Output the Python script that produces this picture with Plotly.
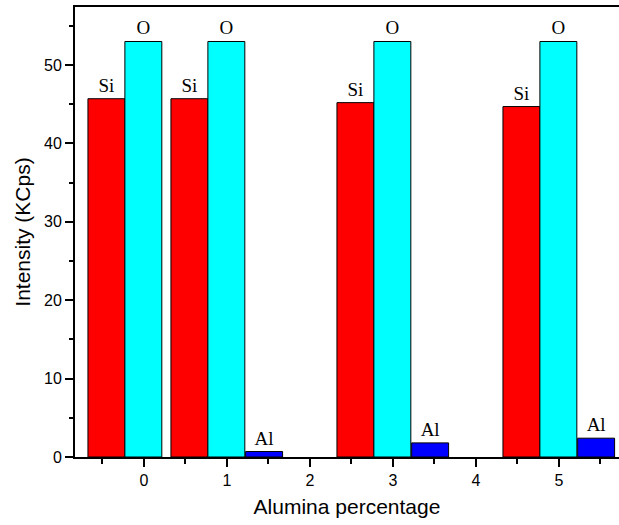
import plotly.graph_objects as go

x_vals = [0, 1, 2, 3, 4, 5]
si_vals = [45.7, 45.7, None, 45.2, None, 44.7]
o_vals = [53.0, 53.0, None, 53.0, None, 53.0]
al_vals = [None, 0.7, None, 1.8, None, 2.4]

series = [
    ("Si", si_vals, "#FF0000", -0.675),
    ("O", o_vals, "#00FFFF", -0.23),
    ("Al", al_vals, "#0000FF", 0.225),
]

fig = go.Figure()
for name, vals, color, off in series:
    fig.add_trace(go.Bar(
        x=x_vals, y=vals, name=name,
        width=0.445, offset=off,
        marker=dict(color=color, line=dict(color="black", width=1)),
        text=[name if v is not None else "" for v in vals],
        textposition="outside",
        textfont=dict(family="Liberation Serif", size=19, color="black"),
        cliponaxis=False,
    ))

fig.update_layout(
    width=619, height=525,
    margin=dict(l=75, r=0, t=7, b=68),
    paper_bgcolor="white", plot_bgcolor="white",
    showlegend=False,
    barmode="overlay",
    font=dict(family="Liberation Sans", color="black"),
)
fig.update_xaxes(
    range=[-0.831, 5.723],
    tickmode="array", tickvals=x_vals, ticktext=[str(v) for v in x_vals],
    ticks="outside", ticklen=8, tickwidth=1.5, tickcolor="black",
    minor=dict(tickmode="array", tickvals=[-0.5, 0.5, 1.5, 2.5, 3.5, 4.5, 5.5],
               ticks="outside", ticklen=5, tickwidth=1.5, tickcolor="black"),
    showline=True, linecolor="black", linewidth=2, mirror=True,
    showgrid=False, zeroline=False,
    tickfont=dict(size=16),
    title=dict(text="Alumina percentage", font=dict(size=21), standoff=11),
)
fig.update_yaxes(
    range=[0, 57.4],
    tickmode="array", tickvals=[0, 10, 20, 30, 40, 50],
    ticks="outside", ticklen=8, tickwidth=1.5, tickcolor="black",
    minor=dict(tickmode="array", tickvals=[5, 15, 25, 35, 45, 55],
               ticks="outside", ticklen=4, tickwidth=1.5, tickcolor="black"),
    showline=True, linecolor="black", linewidth=2,
    showgrid=False, zeroline=False,
    tickfont=dict(size=16),
    title=dict(text="Intensity (KCps)", font=dict(size=21), standoff=8),
)

fig.write_html("out.html", config={"displayModeBar": False},
               post_script="document.body.style.margin='0';")
